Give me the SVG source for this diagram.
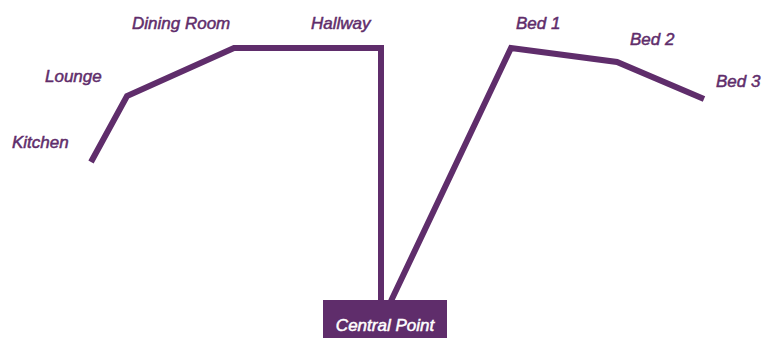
<svg xmlns="http://www.w3.org/2000/svg" width="763" height="338" viewBox="0 0 763 338">
  <style>
    .lbl { font-family: "Liberation Sans", Arial, sans-serif; font-style: italic; font-size: 17px; fill: #5f2d6b; stroke: #5f2d6b; stroke-width: 0.5px; }
    .wl { fill: #ffffff; stroke: #ffffff; }
    .path { fill: none; stroke: #5f2d6b; stroke-width: 6; stroke-linejoin: miter; stroke-linecap: butt; }
  </style>
  <rect width="763" height="338" fill="#ffffff"/>
  <g id="connectors">
    <polyline class="path" points="91,162 127,96 234,48 381,48 381,301"/>
    <polyline class="path" points="391,301 511,48 617,62 704,99"/>
  </g>
  <g id="kitchen"><text class="lbl" x="12" y="148">Kitchen</text></g>
  <g id="lounge"><text class="lbl" x="45" y="82">Lounge</text></g>
  <g id="dining-room"><text class="lbl" x="132" y="29">Dining Room</text></g>
  <g id="hallway"><text class="lbl" x="311" y="29">Hallway</text></g>
  <g id="bed1"><text class="lbl" x="516" y="29">Bed 1</text></g>
  <g id="bed2"><text class="lbl" x="630" y="45">Bed 2</text></g>
  <g id="bed3"><text class="lbl" x="716" y="87">Bed 3</text></g>
  <g id="central-point">
    <rect x="323" y="300" width="124" height="38" fill="#5f2d6b"/>
    <text class="lbl wl" x="385" y="331" text-anchor="middle">Central Point</text>
  </g>
</svg>
